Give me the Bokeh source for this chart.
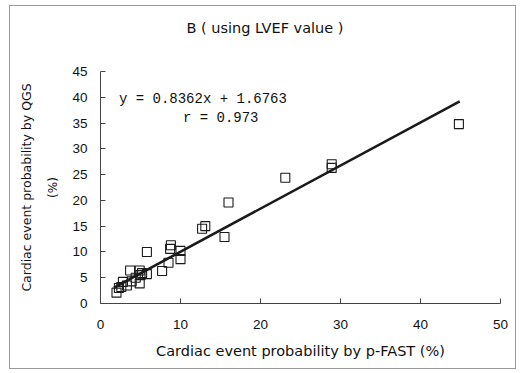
from bokeh.plotting import figure
from bokeh.models import Range1d, Label, FixedTicker, Title
from bokeh.embed import file_html
from bokeh.resources import INLINE

# ---- data ----
pfast = [2.0, 2.3, 2.6, 2.8, 3.3, 3.7, 3.9, 4.4, 4.9, 4.9, 5.2, 5.0, 5.8, 5.8,
         7.7, 8.5, 8.7, 8.8, 10.0, 10.0, 12.7, 13.1, 15.5, 16.0, 23.1, 28.9, 28.9, 44.8]
qgs = [2.1, 3.0, 3.2, 4.2, 3.5, 6.4, 4.3, 5.0, 3.9, 6.4, 5.9, 5.5, 10.0, 5.7,
       6.3, 7.9, 10.6, 11.3, 10.2, 8.6, 14.5, 15.0, 12.9, 19.6, 24.4, 27.0, 26.3, 34.8]
slope = 0.8362
intercept = 1.6763
r_value = 0.973
line_x = [1.7, 44.9]
line_y = [slope * v + intercept for v in line_x]
x_ticks = [0, 10, 20, 30, 40, 50]
y_ticks = [0, 5, 10, 15, 20, 25, 30, 35, 40, 45]

title_text = "B ( using LVEF value )"
x_label = "Cardiac event probability by p-FAST (%)"
y_label = "Cardiac event probability by QGS"
y_label2 = "(%)"

WIDE_FONT = "DejaVu Sans"
TICK_FONT = "Liberation Sans"
EQ_FONT = "Liberation Mono"

p = figure(width=507, height=364, output_backend="svg", toolbar_location=None,
           x_range=Range1d(0, 50), y_range=Range1d(0, 45),
           min_border_left=90, min_border_right=17, min_border_top=10, min_border_bottom=67)
p.styles = {"border": "1px solid #9a9a9a", "margin-left": "9px", "margin-top": "5px"}
p.background_fill_color = "white"
p.border_fill_color = "white"
p.outline_line_color = None
p.xgrid.visible = False
p.ygrid.visible = False

for ax, ticks in ((p.xaxis[0], x_ticks), (p.yaxis[0], y_ticks)):
    ax.ticker = FixedTicker(ticks=ticks)
    ax.major_tick_in = 5
    ax.major_tick_out = 0
    ax.minor_tick_line_color = None
    ax.axis_line_color = "#444444"
    ax.major_tick_line_color = "#444444"
    ax.major_label_text_font = TICK_FONT
    ax.major_label_text_font_size = "13.5px"
    ax.major_label_text_color = "#111111"
p.xaxis.major_label_standoff = 16
p.yaxis.major_label_standoff = 13

p.xaxis.axis_label = x_label
p.xaxis.axis_label_text_font = WIDE_FONT
p.xaxis.axis_label_text_font_size = "14.5px"
p.xaxis.axis_label_text_font_style = "normal"
p.xaxis.axis_label_text_color = "#111111"
p.xaxis.axis_label_standoff = 11

# spacer (white) between the frame and the title, then the title itself
p.add_layout(Title(text=".", text_font=WIDE_FONT, text_font_size="10px",
                   text_color="white", standoff=14), "above")
p.add_layout(Title(text=title_text, text_font=WIDE_FONT, text_font_size="14.5px",
                   text_font_style="normal", text_color="#111111",
                   align="left", offset=86, standoff=23), "above")
p.add_layout(Title(text=y_label2, text_font=WIDE_FONT, text_font_size="12px",
                   text_font_style="normal", text_color="#111111",
                   align="center", standoff=20), "left")
p.add_layout(Title(text=y_label, text_font=WIDE_FONT, text_font_size="12.5px",
                   text_font_style="normal", text_color="#111111",
                   align="center", standoff=0), "left")

p.line(line_x, line_y, line_color="#1a1a1a", line_width=2.6)
p.scatter(pfast, qgs, marker="square", size=9, fill_color=None,
          line_color="#1a1a1a", line_width=1.1)

p.add_layout(Label(x=2.3, y=39.7, text="y = %.4fx + %.4f" % (slope, intercept),
                   text_font=EQ_FONT, text_font_size="14px", text_baseline="middle",
                   text_color="#111111"))
p.add_layout(Label(x=10.3, y=36.0, text="r = %.3f" % r_value,
                   text_font=EQ_FONT, text_font_size="14px", text_baseline="middle",
                   text_color="#111111"))

open("out.html", "w").write(file_html(p, INLINE))
